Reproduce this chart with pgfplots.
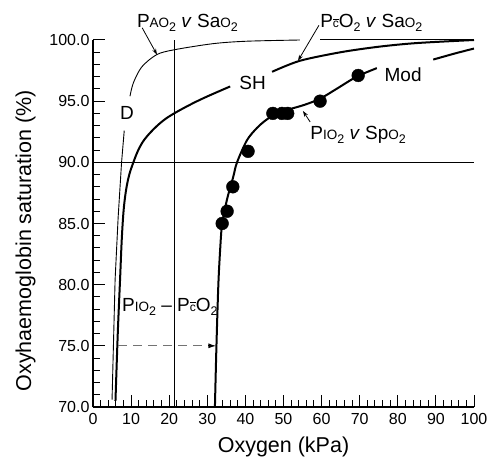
\documentclass[border=0pt]{standalone}
\usepackage{fontspec}
\setmainfont{Liberation Sans}
\usepackage{pgfplots}
\pgfplotsset{compat=1.18}
\usetikzlibrary{arrows.meta}
\newcommand{\lab}{\fontsize{19bp}{21bp}\selectfont}
\newcommand{\sml}[1]{{\fontsize{13.5bp}{14bp}\selectfont #1}}
\newcommand{\sbs}[1]{\raisebox{-4bp}{\fontsize{12.5bp}{13bp}\selectfont #1}}
\newcommand{\cbar}{{\fontsize{12bp}{12bp}\selectfont\rlap{\hspace{0.3bp}\raisebox{8.3bp}{\rule{5.4bp}{0.8bp}}}c}}
\begin{document}
\begin{tikzpicture}
\begin{axis}[name=ax, scale only axis, width=381bp, height=367bp,
 xmin=0, xmax=100, ymin=70, ymax=100,
 axis x line=bottom, axis y line=left, axis line style={-, line width=1.2bp},
 xtick={0,10,...,100}, ytick={70,75,...,100}, minor x tick num=4, minor y tick num=4,
 tick align=inside, major tick length=12bp, minor tick length=7bp,
 tick style={line width=1bp, black},
 y tick label style={/pgf/number format/.cd, fixed, fixed zerofill, precision=1, /tikz/.cd},
 x tick label style={yshift=-3bp},
 /pgf/number format/assume math mode=true,
 tick label style={font=\fontsize{16bp}{18bp}\selectfont},
 xlabel={Oxygen (kPa)}, ylabel={Oxyhaemoglobin saturation (\%)},
 label style={font=\fontsize{21.5bp}{24bp}\selectfont},
 xlabel style={yshift=-5bp},
 ylabel style={at={(axis description cs:-0.177,0.453)}, anchor=center},
 clip=false,
]
% D curve (thin): PAO2 v SaO2
\addplot[black, line width=0.9bp] coordinates {(5.0,70.6)(5.8,80.4)(6.6,85.5)(7.5,90)(8.2,92.6)};
\addplot[black, line width=0.9bp, smooth] coordinates {(9.7,95.4)(10.6,96.5)(12.8,97.8)(16.7,98.8)(21.3,99.2)(31.5,99.7)(40.3,99.9)(54.3,100.0)};
\addplot[black, line width=0.9bp] coordinates {(59.6,100.02)(100,100.02)};
% SH curve (thick): PcO2 v SaO2
\addplot[black, line width=2bp, smooth, tension=0.6] coordinates {(5.9,70.5)(6.5,76)(7.1,80.4)(7.6,84)(8.2,86.6)(9.2,88.6)(10.6,90.0)(12.2,91.2)(14.1,92.1)(17.6,93.2)(21.3,94.0)(28,95.1)(36,96.2)};
\addplot[black, line width=2bp, smooth] coordinates {(47,97.4)(54.3,98.3)(65,99.0)(75,99.45)(85,99.75)(100,100)};
% Mod curve (thick): PIO2 v SpO2
\addplot[black, line width=2bp, smooth] coordinates {(32.0,70)(32.4,75)(32.9,80)(33.4,83)(33.9,85)(35.2,87)(36.8,88.8)(37.8,90)(40.4,91.8)(43,92.8)(45.6,93.5)(48.5,94.0)(51.7,94.35)(55.5,94.7)(59.6,95.2)(63.9,96.0)(69.2,97.0)(74.5,97.7)};
\addplot[black, line width=2bp, smooth] coordinates {(89.3,98.4)(95,98.9)(100,99.3)};
% data points
\addplot[only marks, mark=*, mark size=6.4bp, black] coordinates {(33.9,85)(35.2,86)(36.7,88)(40.7,90.9)(47.2,94)(49.6,94)(51.1,94)(59.6,95)(69.6,97.1)};
% reference lines
\draw[line width=0.9bp] (axis cs:0,90) -- (axis cs:100,90);
\draw[line width=0.9bp] (axis cs:21.3,70) -- (axis cs:21.3,100);
% dashed arrow
\draw[black!55, line width=1.3bp, dash pattern=on 9bp off 6bp] (axis cs:6.6,75) -- (axis cs:30.3,75);
\draw[-{Latex[length=8bp,width=5bp]}, line width=1.3bp] (axis cs:30.2,75) -- (axis cs:32.4,75);
% label arrows
\draw[-{Stealth[length=6bp,width=4bp]}, line width=0.8bp] (axis cs:12.9,101.0) -- (axis cs:16.8,98.8);
\draw[-{Stealth[length=6bp,width=4bp]}, line width=0.8bp] (axis cs:59.3,101.2) -- (axis cs:53.8,98.3);
\draw[-{Stealth[length=6bp,width=4bp]}, line width=0.8bp] (axis cs:57.0,93.3) -- (axis cs:55.1,94.2);
% labels
\node[anchor=base west, inner sep=0] at (axis cs:11.5,101.0) {\lab P\sml{AO}\sbs{2} \textit{v} Sa\sml{O}\sbs{2}};
\node[anchor=base west, inner sep=0] at (axis cs:59.6,101.0) {\lab P\cbar O\sbs{2} \textit{v} Sa\sml{O}\sbs{2}};
\node[inner sep=0] at (axis cs:8.9,94.0) {\lab D};
\node[inner sep=0] at (axis cs:41.9,96.45) {\lab SH};
\node[inner sep=0] at (axis cs:81.4,97.15) {\lab Mod};
\node[anchor=base west, inner sep=0] at (axis cs:57.0,91.9) {\lab P\sml{IO}\sbs{2} \textit{v} Sp\sml{O}\sbs{2}};
\node[anchor=base west, inner sep=0] at (axis cs:7.6,77.8) {\lab P\sml{IO}\sbs{2} -- P\cbar O\sbs{2}};
\end{axis}
\pgfresetboundingbox
\path[use as bounding box] ([xshift=-93bp,yshift=-50bp]ax.south west) rectangle ([xshift=18bp,yshift=407bp]ax.south east);
\end{tikzpicture}
\end{document}
